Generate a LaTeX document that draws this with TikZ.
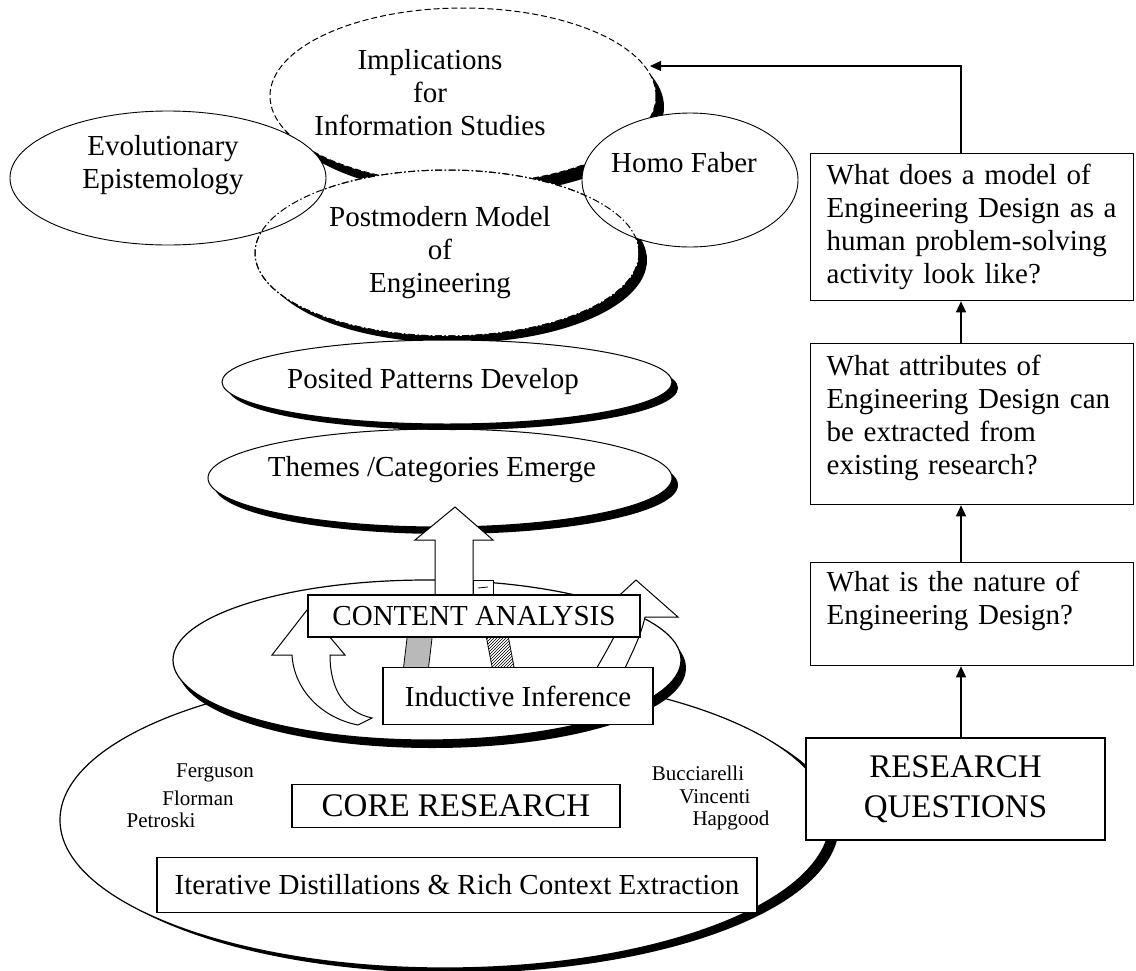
\documentclass[tikz,border=0pt]{standalone}
\usepackage{fontspec}
\setmainfont{Liberation Serif}
\usetikzlibrary{arrows.meta,patterns}
\newcommand{\fsmain}{\fontsize{29}{33}\selectfont}
\newcommand{\fsbig}{\fontsize{33}{40}\selectfont}
\newcommand{\fsname}{\fontsize{21}{23}\selectfont}
\begin{document}
\begin{tikzpicture}[x=1pt,y=-1pt,
  ell/.style={draw=black,line width=1pt,fill=white},
  shd/.style={fill=black},
  dashell/.style={ell,dash pattern=on 6pt off 3pt},
  pmell/.style={ell,dash pattern=on 7pt off 2.5pt on 1.5pt off 2.5pt},
  txt/.style={inner sep=0pt,align=center,font=\fsmain},
  nm/.style={inner sep=0pt,font=\fsname},
  bx/.style={draw,line width=1.3pt,fill=white,inner sep=0pt,align=center,font=\fsmain},
  qbox/.style={draw,line width=1.3pt,fill=white,anchor=north west,
    minimum width=323pt,text width=291pt,inner xsep=16pt,inner ysep=0pt,
    align=left,font=\fsmain},
  hollow/.style={draw,line width=1pt,fill=white,line join=miter},
  conn/.style={line width=1.3pt,-{Triangle[length=11pt,width=10pt]}}
]
\fill[white] (0,0) rectangle (1136,970);
\useasboundingbox (0,0) rectangle (1136,970);

% base layer: core research
\fill[shd] (454,825) ellipse [x radius=385pt,y radius=148pt];
\draw[ell,line width=1.2pt] (445,820) ellipse [x radius=385pt,y radius=148pt];
\node[nm] (ferguson) at (215,773) {Ferguson};
\node[nm] (florman) at (198,798) {Florman};
\node[nm] (petroski) at (161,820) {Petroski};
\node[nm] (bucciarelli) at (698,773) {Bucciarelli};
\node[nm] (vincenti) at (715,797) {Vincenti};
\node[nm] (hapgood) at (731,820) {Hapgood};
\node[bx,font=\fsbig,minimum width=328pt,minimum height=43pt] (core) at (456,806) {CORE RESEARCH};
\node[bx,minimum width=600pt,minimum height=55pt] (distil) at (457,885) {Iterative Distillations \& Rich Context Extraction};

% content analysis layer
\fill[shd] (432,668) ellipse [x radius=254pt,y radius=80pt];
\draw[ell,line width=1.2pt] (427,660) ellipse [x radius=254pt,y radius=80pt];

% looping arrows and ribbon strips
\draw[hollow] (307,610) -- (345,655) -- (330,655)
  .. controls (330,690) and (345,712) .. (372,718) -- (358,725)
  .. controls (322,718) and (294,690) .. (292,655) -- (272,655) -- cycle;
\draw[hollow] (636,580) -- (678,617) -- (645,617)
  .. controls (640,640) and (628,660) .. (615,690) -- (585,690)
  .. controls (600,660) and (615,640) .. (622,617) -- (596,617) -- cycle;
\draw[line width=0.8pt,fill=gray!55] (408,630) -- (433,630) -- (428,672) -- (403,672) -- cycle;
\draw[line width=0.8pt,pattern=north east lines] (485,630) -- (507,630) -- (515,672) -- (493,672) -- cycle;
\draw[line width=0.8pt,fill=white] (473,580) rectangle (493,596);
\draw[line width=0.8pt] (478,588) -- (488,587);

% upper cluster
\fill[shd] (471,107) ellipse [x radius=193pt,y radius=88pt];
\draw[dashell] (463,96) ellipse [x radius=193pt,y radius=88pt];
\node[txt] (impl) at (430,93) {Implications\\for\\Information Studies};
\fill[shd] (455,260) ellipse [x radius=192pt,y radius=83pt];
\draw[pmell] (447,253) ellipse [x radius=192pt,y radius=83pt];
\draw[ell,line width=0.9pt] (168,178) ellipse [x radius=158pt,y radius=67pt];
\node[txt] (evo) at (163,165) {Evolutionary\\Epistemology};
\draw[ell,line width=0.9pt] (690,180) ellipse [x radius=108pt,y radius=67pt];
\node[txt] (homo) at (684,163) {Homo Faber};
\draw[pmell,fill=none] (447,253) ellipse [x radius=192pt,y radius=83pt];
\node[txt] (post) at (440,253) {Postmodern Model\\of\\Engineering};

% emerging layers
\fill[shd] (446,485) ellipse [x radius=232pt,y radius=49pt];
\draw[ell] (440,478) ellipse [x radius=232pt,y radius=49pt];
\node[txt] (themes) at (432,470) {Themes /Categories Emerge};
\fill[shd] (453,388) ellipse [x radius=225pt,y radius=42pt];
\draw[ell] (447,382) ellipse [x radius=225pt,y radius=42pt];
\node[txt] (posited) at (433,382) {Posited Patterns Develop};

% upward arrow
\draw[hollow] (435,600) -- (435,540) -- (415,540) -- (455,507) -- (493,540) -- (473,540) -- (473,600) -- cycle;

\node[bx,minimum width=332pt,minimum height=42pt] (content) at (474,616) {CONTENT ANALYSIS};
\node[bx,minimum width=270pt,minimum height=57pt] (induct) at (518,696) {Inductive Inference};

% research questions column
\node[qbox,minimum height=147pt] (q1) at (810,153) {What does a model of\\Engineering Design as a\\human problem-solving\\activity look like?};
\node[qbox,minimum height=161pt] (q2) at (810,343) {What attributes of\\Engineering Design can\\be extracted from\\existing research?\\[-14pt]\mbox{}};
\node[qbox,minimum height=103pt] (q3) at (810,562) {What is the nature of\\Engineering Design?\\\mbox{}};
\node[bx,font=\fsbig,minimum width=299pt,minimum height=102pt] (rq) at (955.5,789) {RESEARCH\\QUESTIONS};

\coordinate (colx) at (961,0);
\coordinate (implin) at (650,66);
\draw[conn] (rq.north -| colx) -- (q3.south -| colx);
\draw[conn] (q3.north -| colx) -- (q2.south -| colx);
\draw[conn] (q2.north -| colx) -- (q1.south -| colx);
\draw[conn] (q1.north -| colx) |- (implin);
\end{tikzpicture}
\end{document}
